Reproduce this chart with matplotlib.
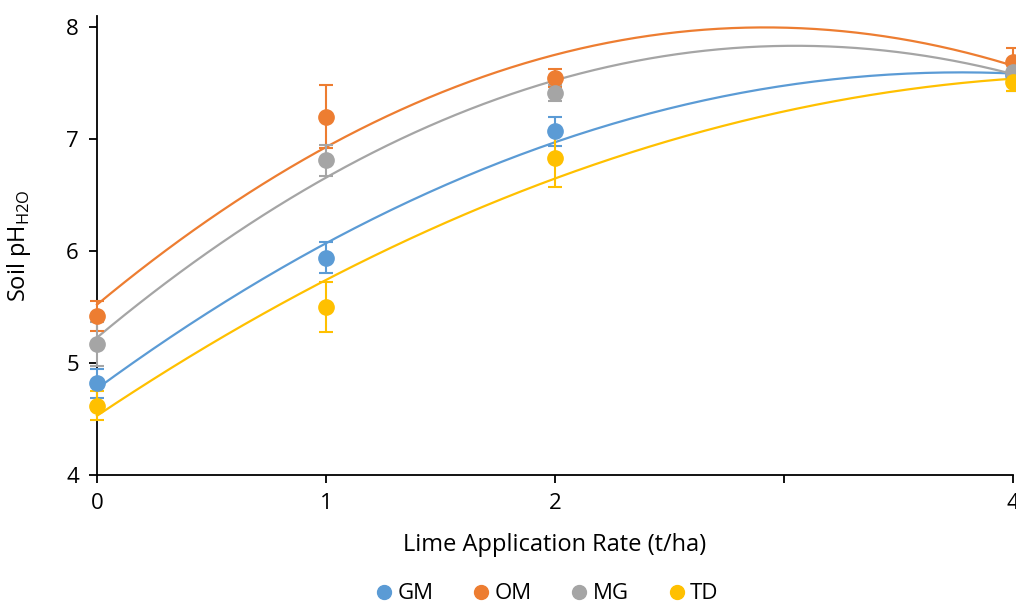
import numpy as np
import matplotlib
matplotlib.use('Agg')
import matplotlib.pyplot as plt

plt.rcParams['font.family'] = ['Open Sans', 'DejaVu Sans']
plt.rcParams['mathtext.fontset'] = 'custom'
plt.rcParams['mathtext.rm'] = 'Open Sans'

# lime rates (t/ha)
rate = [0, 1, 2, 4]

# soil pH per site
gm = [4.82, 5.94, 7.07, 7.57]
om = [5.42, 7.20, 7.55, 7.69]
mg = [5.17, 6.81, 7.41, 7.60]
td = [4.62, 5.50, 6.83, 7.51]

gm_err = [0.13, 0.14, 0.13, 0.14]
om_err = [0.13, 0.28, 0.08, 0.12]
mg_err = [0.20, 0.14, 0.07, 0.08]
td_err = [0.13, 0.22, 0.26, 0.08]

names = ['GM', 'OM', 'MG', 'TD']
colors = ['#5B9BD5', '#ED7D31', '#A5A5A5', '#FFC000']

fig = plt.figure(figsize=(10.16, 6.05), dpi=100)
ax = fig.add_axes([97 / 1016, 1 - 475 / 605, 916 / 1016, 459 / 605])

xs = np.linspace(0, 4, 200)
series = [(gm, gm_err), (om, om_err), (mg, mg_err), (td, td_err)]
for (y, err), name, c in zip(series, names, colors):
    # 2nd order polynomial trendline
    p = np.polyfit(rate, y, 2)
    ax.plot(xs, np.polyval(p, xs), color=c, lw=1.6, zorder=2, clip_on=False)
    ax.errorbar(rate, y, yerr=err, fmt='o', color=c, ms=11, capsize=5,
                elinewidth=1.5, capthick=1.5, label=name, zorder=3, clip_on=False)

ax.set_xlim(0, 4)
ax.set_ylim(4, 8.1)
ax.set_xticks([0, 1, 2, 3, 4])
ax.set_xticklabels(['0', '1', '2', '', '4'])
ax.set_yticks([4, 5, 6, 7, 8])
ax.tick_params(labelsize=16, length=6, width=1.3, direction='out', pad=7)
for s in ['top', 'right']:
    ax.spines[s].set_visible(False)
for s in ['left', 'bottom']:
    ax.spines[s].set_linewidth(1.3)

ax.set_xlabel('Lime Application Rate (t/ha)', fontsize=17)
ax.set_ylabel('Soil pH$_{\\mathrm{H2O}}$', fontsize=17)
ax.xaxis.set_label_coords(0.5, -0.127)
ax.yaxis.set_label_coords(-0.07, 0.5)

handles = [plt.Line2D([], [], marker='o', ls='', color=c, ms=10) for c in colors]
fig.legend(handles, names, loc='lower center', ncol=4, frameon=False, fontsize=16,
           bbox_to_anchor=(0.536, -0.032), columnspacing=1.55, handletextpad=0.0,
           handlelength=1.2)

fig.savefig('out.png', dpi=100)
